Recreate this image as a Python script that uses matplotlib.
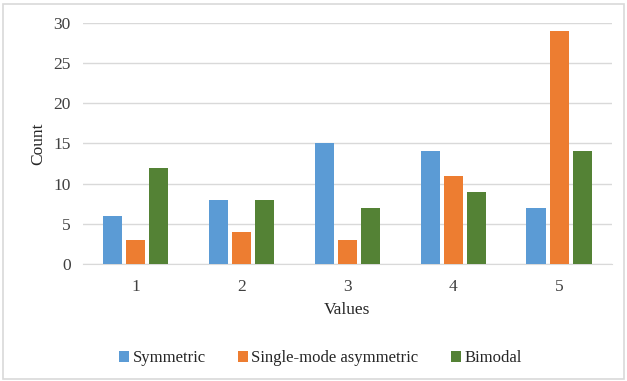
import numpy as np
import matplotlib
matplotlib.use("Agg")
import matplotlib.pyplot as plt
import matplotlib.patches as mpatches

plt.rcParams["font.family"] = ["Liberation Serif", "DejaVu Serif"]

# ── Data ──────────────────────────────────────────────────────────────────────
categories = ["1", "2", "3", "4", "5"]
symmetric = [6, 8, 15, 14, 7]
single_mode = [3, 4, 3, 11, 29]
bimodal = [12, 8, 7, 9, 14]

SERIES = ["Symmetric", "Single-mode asymmetric", "Bimodal"]
COLORS = ["#5b9bd5", "#ed7d31", "#548235"]
GRID = "#d9d9d9"

fig = plt.figure(figsize=(6.27, 3.81), dpi=100)
ax = fig.add_axes([0.1324, 0.307, 0.8436, 0.633])

x = np.arange(len(categories))
width = 0.18
step = 0.218
for i, (vals, name, col) in enumerate(zip([symmetric, single_mode, bimodal], SERIES, COLORS)):
    ax.bar(x + (i - 1) * step, vals, width=width, color=col, label=name, zorder=3)

ax.set_xlim(-0.5, len(categories) - 0.5)
ax.set_ylim(0, 30)
ax.set_yticks(range(0, 31, 5))
ax.set_xticks(x)
ax.set_xticklabels(categories)
ax.yaxis.grid(True, color=GRID, linewidth=1, zorder=0)
ax.tick_params(length=0, labelsize=12.5, colors="#404040", pad=9)
ax.tick_params(axis="x", pad=11)
for s in ["top", "right", "left"]:
    ax.spines[s].set_visible(False)
ax.spines["bottom"].set_color(GRID)

ax.set_xlabel("Values", fontsize=12.5, color="#262626", labelpad=5)
ax.set_ylabel("Count", fontsize=12.5, color="#262626", labelpad=5)

fig.legend(loc="center", bbox_to_anchor=(0.511, 0.06), ncol=3, frameon=False,
           fontsize=12, handlelength=0.6, handleheight=0.6, handletextpad=0.2,
           columnspacing=1.95, labelcolor="#262626")

# light frame around the whole chart
fig.patches.append(mpatches.Rectangle((0.005, 0.006), 0.99, 0.984,
                                      transform=fig.transFigure, fill=False,
                                      edgecolor=GRID, linewidth=1.2))

fig.savefig("out.png", dpi=100, facecolor="white")
